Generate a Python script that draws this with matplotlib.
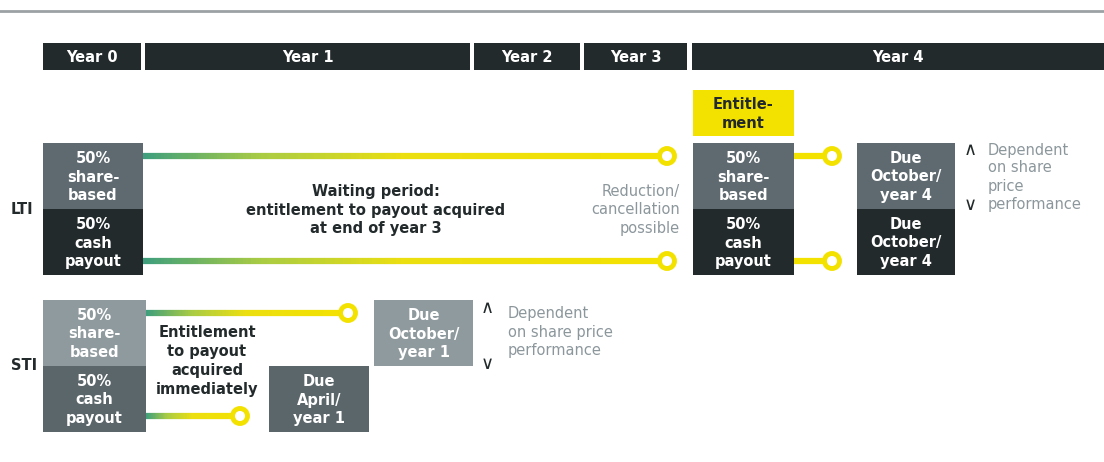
import numpy as np
import matplotlib
matplotlib.use('Agg')
import matplotlib.pyplot as plt
from matplotlib.patches import Rectangle, Circle
from matplotlib.collections import LineCollection
from matplotlib.colors import LinearSegmentedColormap

plt.rcParams['font.family'] = ['DejaVu Sans']

# content
years = ['Year 0', 'Year 1', 'Year 2', 'Year 3', 'Year 4']
lti_left = ['50%\nshare-\nbased', '50%\ncash\npayout']
lti_due = ['Due\nOctober/\nyear 4', 'Due\nOctober/\nyear 4']
sti_left = ['50%\nshare-\nbased', '50%\ncash\npayout']
sti_due_share = 'Due\nOctober/\nyear 1'
sti_due_cash = 'Due\nApril/\nyear 1'
waiting_txt = 'Waiting period:\nentitlement to payout acquired\nat end of year 3'
reduction_txt = 'Reduction/\ncancellation\npossible'
entitle_txt = 'Entitle-\nment'
lti_dep_txt = 'Dependent\non share\nprice\nperformance'
sti_dep_txt = 'Dependent\non share price\nperformance'
sti_ent_txt = 'Entitlement\nto payout\nacquired\nimmediately'

# layout (pixel coords)
year_spans = [(43, 141), (145, 470), (474, 580), (584, 687), (692, 1104)]

DARK = '#232a2b'
MID = '#5e6a70'
LIGHT = '#8f9a9e'
STI_CASH = '#5b666b'
YEL = '#f3e100'
GRAYTXT = '#8c979c'
FS = 10.5
LS = 1.32

cmap = LinearSegmentedColormap.from_list(
    'g2y', [(0, '#3f9f7c'), (0.22, '#a8cb44'), (0.5, '#ecdf10'), (1, YEL)])

fig = plt.figure(figsize=(11.04, 4.62), dpi=100)
ax = fig.add_axes([0, 0, 1, 1])
ax.set_xlim(0, 1104)
ax.set_ylim(462, 0)
ax.axis('off')


def box(x0, x1, y0, y1, color, txt, tcolor='white', fs=FS):
    ax.add_patch(Rectangle((x0, y0), x1 - x0, y1 - y0, facecolor=color, edgecolor='none'))
    ax.text((x0 + x1) / 2, (y0 + y1) / 2 + 1, txt, ha='center', va='center', color=tcolor,
            fontsize=fs, fontweight='bold', linespacing=LS)


def grad_line(x0, x1, y, solid=False):
    if solid:
        ax.plot([x0, x1], [y, y], color=YEL, lw=4.5, solid_capstyle='butt')
    else:
        xs = np.linspace(x0, x1, 200)
        segs = [[(xs[i], y), (xs[i + 1], y)] for i in range(len(xs) - 1)]
        lc = LineCollection(segs, colors=cmap(np.linspace(0, 1, len(segs))), linewidths=4.5)
        ax.add_collection(lc)
    ax.add_patch(Circle((x1, y), 7.5, facecolor='white', edgecolor=YEL, lw=3.5, zorder=5))


def chevrons(x, ytop, ybot):
    ax.text(x, ytop, '\u2227', ha='center', va='center', fontsize=13, color=DARK)
    ax.text(x, ybot, '\u2228', ha='center', va='center', fontsize=13, color=DARK)


# top rule
ax.plot([0, 1104], [11, 11], color='#9ca1a4', lw=2)

# year header
for lab, (x0, x1) in zip(years, year_spans):
    box(x0, x1, 43, 70, DARK, lab)

# LTI
ax.text(22, 209, 'LTI', ha='center', va='center', fontsize=FS, fontweight='bold', color=DARK)
box(43, 143, 143, 209, MID, lti_left[0])
box(43, 143, 209, 275, DARK, lti_left[1])
grad_line(143, 667, 156)
grad_line(143, 667, 261)
ax.text(376, 210, waiting_txt, ha='center', va='center', fontsize=FS, fontweight='bold',
        color=DARK, linespacing=LS)
ax.text(680, 210, reduction_txt, ha='right', va='center', fontsize=FS, color=GRAYTXT,
        linespacing=LS)
box(693, 794, 90, 136, YEL, entitle_txt, tcolor=DARK)
box(693, 794, 143, 209, MID, lti_left[0])
box(693, 794, 209, 275, DARK, lti_left[1])
grad_line(794, 832, 156, solid=True)
grad_line(794, 832, 261, solid=True)
box(857, 955, 143, 209, MID, lti_due[0])
box(857, 955, 209, 275, DARK, lti_due[1])
chevrons(970, 150, 205)
ax.text(988, 177, lti_dep_txt, ha='left', va='center', fontsize=FS, color=GRAYTXT,
        linespacing=1.25)

# STI
ax.text(24, 366, 'STI', ha='center', va='center', fontsize=FS, fontweight='bold', color=DARK)
box(43, 146, 300, 366, LIGHT, sti_left[0])
box(43, 146, 366, 432, STI_CASH, sti_left[1])
grad_line(146, 348, 313)
grad_line(146, 240, 416)
ax.text(207, 361, sti_ent_txt, ha='center', va='center', fontsize=FS, fontweight='bold',
        color=DARK, linespacing=LS)
box(374, 473, 300, 366, LIGHT, sti_due_share)
box(269, 369, 366, 432, STI_CASH, sti_due_cash)
chevrons(487, 308, 364)
ax.text(508, 332, sti_dep_txt, ha='left', va='center', fontsize=FS, color=GRAYTXT,
        linespacing=LS)

fig.savefig('out.png', dpi=100)
